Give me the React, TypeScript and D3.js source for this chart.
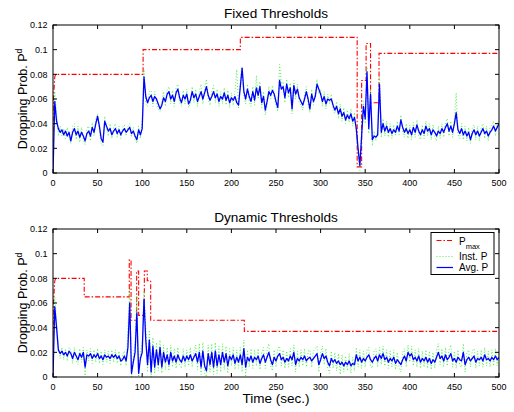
import React from 'react';
import * as d3 from 'd3';

const W = 514;
const H = 412;
const FONT = '"Liberation Sans", Arial, Helvetica, sans-serif';

const X_TICKS = [0, 50, 100, 150, 200, 250, 300, 350, 400, 450, 500];
const Y_TICKS = [0, 0.02, 0.04, 0.06, 0.08, 0.1, 0.12];
const Y_TICK_LABELS = ['0', '0.02', '0.04', '0.06', '0.08', '0.1', '0.12'];
const TITLES = ['Fixed Thresholds', 'Dynamic Thresholds'];
const LEGEND_LABELS = ['P', 'Inst. P', 'Avg. P'];

// sampling instants of the measured series (seconds)
const SAMPLE_TIMES = d3.range(0, 501, 2);

// values below are in units of 1e-3 (dropping probability x 1000)
const fixedAvg = [
  0, 58, 42, 36, 33, 35, 31, 34, 30, 33,
  26, 33, 36, 31, 34, 29, 33, 30, 26, 32,
  34, 30, 37, 33, 40, 46, 38, 28, 25, 42,
  38, 34, 36, 31, 34, 36, 32, 35, 31, 34,
  36, 33, 35, 37, 32, 34, 30, 27, 35, 31,
  36, 78, 62, 57, 61, 63, 58, 62, 60, 56,
  52, 55, 61, 58, 64, 66, 60, 63, 58, 65,
  68, 61, 57, 63, 60, 64, 56, 59, 66, 61,
  64, 58, 62, 66, 60, 65, 70, 63, 59, 62,
  66, 61, 64, 58, 62, 60, 65, 59, 63, 57,
  61, 59, 62, 57, 55, 70, 85, 66, 60, 68,
  62, 58, 66, 59, 69, 63, 70, 57, 62, 51,
  58, 66, 63, 67, 64, 58, 53, 75, 68, 70,
  61, 72, 65, 69, 52, 71, 64, 68, 61, 58,
  55, 60, 66, 60, 52, 64, 58, 62, 72, 68,
  64, 58, 62, 56, 60, 59, 60, 55, 51, 54,
  48, 52, 46, 49, 43, 47, 44, 48, 42, 45,
  36, 20, 6, 30, 54, 44, 82, 36, 64, 27,
  30, 29, 31, 72, 33, 40, 34, 38, 33, 36,
  32, 35, 33, 38, 34, 43, 37, 33, 36, 32,
  35, 31, 37, 33, 39, 34, 31, 35, 32, 38,
  34, 36, 31, 35, 33, 30, 34, 32, 36, 33,
  37, 40, 34, 38, 33, 40, 49, 35, 32, 36,
  31, 34, 30, 33, 27, 32, 35, 31, 34, 30,
  33, 36, 32, 34, 30, 33, 35, 38, 34, 37,
  40,
];

const fixedInst = [
  40, 66, 48, 30, 38, 30, 36, 28, 37, 29,
  24, 38, 40, 27, 38, 25, 37, 27, 23, 36,
  38, 26, 41, 30, 44, 48, 34, 24, 22, 46,
  35, 30, 40, 28, 37, 40, 29, 38, 28, 37,
  39, 30, 38, 40, 29, 37, 27, 24, 38, 28,
  42, 84, 56, 54, 66, 67, 54, 66, 56, 52,
  50, 58, 66, 54, 68, 70, 56, 67, 54, 69,
  72, 57, 54, 67, 56, 68, 53, 56, 70, 57,
  68, 54, 66, 72, 56, 69, 76, 60, 55, 66,
  71, 57, 68, 54, 66, 56, 69, 55, 67, 53,
  65, 55, 66, 84, 52, 76, 86, 62, 56, 72,
  58, 54, 70, 55, 79, 60, 74, 53, 66, 47,
  55, 70, 60, 71, 61, 55, 50, 88, 72, 74,
  57, 76, 61, 73, 48, 75, 60, 72, 57, 55,
  51, 64, 70, 56, 49, 68, 55, 66, 76, 64,
  68, 54, 66, 52, 64, 56, 64, 51, 48, 58,
  44, 56, 42, 53, 40, 51, 41, 52, 38, 49,
  32, 14, 2, 36, 58, 40, 86, 32, 68, 22,
  34, 26, 35, 78, 29, 44, 30, 42, 29, 40,
  28, 39, 30, 42, 31, 47, 33, 29, 40, 28,
  39, 27, 41, 29, 43, 30, 27, 39, 28, 42,
  30, 40, 27, 39, 29, 26, 38, 28, 40, 29,
  41, 44, 30, 42, 29, 44, 65, 31, 28, 40,
  27, 38, 26, 37, 24, 36, 39, 27, 38, 26,
  37, 40, 28, 38, 26, 37, 39, 42, 30, 41,
  42,
];

const dynAvg = [
  0, 57, 40, 22, 19, 21, 18, 20, 17, 21,
  19, 15, 20, 17, 14, 19, 16, 20, 8, 18,
  17, 19, 15, 18, 16, 19, 15, 17, 14, 18,
  16, 17, 15, 18, 16, 18, 15, 17, 13, 14,
  17, 13, 24, 60, 3, 12, 20, 52, 3, 15,
  20, 63, 30, 10, 30, 4, 25, 8, 22, 10,
  24, 8, 20, 12, 18, 10, 20, 13, 17, 12,
  18, 14, 12, 17, 13, 17, 14, 18, 13, 16,
  19, 12, 20, 8, 21, 9, 5, 19, 10, 20,
  8, 21, 9, 18, 10, 20, 12, 19, 9, 17,
  14, 18, 11, 16, 12, 18, 10, 23, 8, 16,
  13, 17, 12, 16, 14, 17, 11, 15, 18, 12,
  16, 20, 14, 10, 16, 13, 17, 19, 14, 16,
  12, 15, 13, 17, 14, 20, 10, 15, 13, 16,
  14, 17, 13, 15, 16, 13, 15, 17, 19, 10,
  14, 19, 15, 17, 12, 9, 15, 12, 14, 11,
  13, 10, 12, 9, 12, 10, 13, 9, 11, 10,
  18, 13, 16, 12, 15, 13, 16, 18, 14, 12,
  15, 17, 13, 18, 15, 19, 14, 16, 12, 15,
  13, 16, 11, 14, 12, 10, 14, 17, 13, 20,
  17, 19, 14, 16, 13, 17, 12, 15, 13, 16,
  12, 15, 11, 14, 12, 16, 20, 15, 17, 13,
  18, 14, 16, 19, 13, 15, 12, 16, 14, 13,
  20, 10, 14, 16, 13, 15, 17, 12, 15, 14,
  16, 13, 18, 14, 15, 13, 16, 14, 17, 14,
  16,
];

const dynInst = [
  30, 65, 45, 25, 15, 24, 14, 23, 13, 24,
  22, 11, 24, 13, 10, 23, 12, 24, 1, 22,
  13, 23, 11, 22, 12, 23, 11, 21, 10, 22,
  12, 21, 11, 22, 12, 22, 11, 21, 9, 18,
  21, 9, 40, 72, 0, 16, 28, 66, 0, 20,
  28, 70, 40, 4, 38, 0, 32, 3, 28, 5,
  30, 3, 26, 6, 24, 5, 26, 8, 23, 7,
  24, 9, 7, 23, 8, 22, 9, 24, 8, 21,
  26, 6, 27, 2, 28, 3, 0, 26, 4, 27,
  2, 28, 3, 25, 4, 27, 6, 25, 3, 23,
  9, 24, 6, 22, 7, 24, 4, 30, 0, 22,
  8, 23, 7, 22, 9, 23, 6, 20, 24, 7,
  22, 27, 9, 5, 22, 8, 23, 25, 9, 22,
  7, 21, 8, 23, 9, 26, 4, 21, 8, 22,
  9, 23, 8, 21, 22, 8, 21, 23, 25, 4,
  20, 25, 10, 23, 7, 3, 21, 7, 20, 5,
  19, 2, 18, 4, 17, 5, 19, 3, 16, 5,
  24, 8, 22, 7, 21, 8, 22, 24, 9, 7,
  21, 23, 8, 24, 10, 25, 9, 22, 7, 21,
  8, 22, 6, 20, 7, 4, 20, 23, 8, 26,
  12, 25, 9, 22, 8, 23, 7, 21, 8, 22,
  7, 21, 6, 20, 7, 22, 27, 10, 23, 8,
  24, 9, 22, 26, 8, 21, 7, 22, 9, 8,
  27, 4, 20, 22, 8, 21, 23, 7, 21, 9,
  22, 8, 24, 9, 21, 8, 22, 9, 23, 9,
  21,
];

// P_max threshold (step curve): times (s) and values
const fixedPmaxT = [0, 0.5, 2, 3, 101, 101, 210, 210, 341, 341, 346, 346, 351, 351, 356, 356, 365.5, 365.5, 500];
const fixedPmaxV = [0.025, 0.06, 0.078, 0.08, 0.08, 0.1, 0.1, 0.11, 0.11, 0.005, 0.005, 0.075, 0.075, 0.105, 0.105, 0.057, 0.057, 0.097, 0.097];

const dynPmaxT = [0, 0.5, 2, 3, 35, 35, 85.5, 85.5, 87.5, 87.5, 93.8, 93.8, 96, 96, 102.4, 102.4, 105.7, 105.7, 109.5, 109.5, 214.5, 214.5, 500];
const dynPmaxV = [0.025, 0.06, 0.078, 0.08, 0.08, 0.065, 0.065, 0.095, 0.095, 0.046, 0.046, 0.086, 0.086, 0.05, 0.05, 0.086, 0.086, 0.078, 0.078, 0.046, 0.046, 0.037, 0.037];

const LEFT = 53;
const RIGHT = 499;
const PANELS = [
  { top: 25, bottom: 173 },
  { top: 229, bottom: 377 },
];

const RED = '#ff0000';
const GREEN = '#44ee44';
const BLUE = '#0000ff';
const DASHDOT = '5,2,1.5,2';
const DOTS = '1,2';

type PanelProps = {
  idx: number;
  title: string;
  avg: number[];
  inst: number[];
  pT: number[];
  pV: number[];
  legend?: boolean;
  xlabel?: boolean;
};

function Panel({ idx, title, avg, inst, pT, pV, legend, xlabel }: PanelProps) {
  const { top, bottom } = PANELS[idx];
  const x = d3.scaleLinear().domain([0, 500]).range([LEFT, RIGHT]);
  const y = d3.scaleLinear().domain([0, 0.12]).range([bottom, top]);
  const line = d3
    .line<[number, number]>()
    .x((d) => x(d[0]))
    .y((d) => y(d[1]));
  const avgPts: [number, number][] = avg.map((v, i) => [SAMPLE_TIMES[i], v / 1000]);
  const instPts: [number, number][] = inst.map((v, i) => [SAMPLE_TIMES[i], v / 1000]);
  const pPts: [number, number][] = pT.map((t, i) => [t, pV[i]]);
  const clipId = `clip-${idx}`;
  const tick = 4;
  const cy = (top + bottom) / 2;
  const cx = (LEFT + RIGHT) / 2;

  return (
    <g>
      <defs>
        <clipPath id={clipId}>
          <rect x={LEFT} y={top - 1} width={RIGHT - LEFT} height={bottom - top + 1} />
        </clipPath>
      </defs>
      <g clipPath={`url(#${clipId})`} fill="none">
        <path d={line(pPts) || ''} stroke={RED} strokeWidth={1.1} strokeDasharray={DASHDOT} />
        <path d={line(instPts) || ''} stroke={GREEN} strokeWidth={0.9} strokeDasharray={DOTS} />
        <path d={line(avgPts) || ''} stroke={BLUE} strokeWidth={1.3} strokeLinejoin="round" />
      </g>
      {/* box */}
      <rect x={LEFT} y={top} width={RIGHT - LEFT} height={bottom - top} fill="none" stroke="#000" strokeWidth={1} />
      {/* x ticks */}
      {X_TICKS.map((t) => (
        <g key={`x${t}`}>
          <line x1={x(t)} x2={x(t)} y1={bottom} y2={bottom - tick} stroke="#000" strokeWidth={1} />
          <line x1={x(t)} x2={x(t)} y1={top} y2={top + tick} stroke="#000" strokeWidth={1} />
          <text x={x(t)} y={bottom + 12.5} textAnchor="middle" fontSize={9} fontFamily={FONT} fill="#000">
            {t}
          </text>
        </g>
      ))}
      {/* y ticks */}
      {Y_TICKS.map((v, i) => (
        <g key={`y${i}`}>
          <line x1={LEFT} x2={LEFT + tick} y1={y(v)} y2={y(v)} stroke="#000" strokeWidth={1} />
          <line x1={RIGHT} x2={RIGHT - tick} y1={y(v)} y2={y(v)} stroke="#000" strokeWidth={1} />
          <text x={47.5} y={y(v) + 3.2} textAnchor="end" fontSize={9} fontFamily={FONT} fill="#000">
            {Y_TICK_LABELS[i]}
          </text>
        </g>
      ))}
      {/* title */}
      <text x={cx} y={top - 7.5} textAnchor="middle" fontSize={13.6} fontFamily={FONT} fill="#000">
        {title}
      </text>
      {/* y label */}
      <text
        transform={`translate(27,${cy}) rotate(-90)`}
        textAnchor="middle"
        fontSize={12.5}
        fontFamily={FONT}
        fill="#000"
      >
        Dropping Prob. P
        <tspan fontSize={8.5} dy={-5}>d</tspan>
      </text>
      {xlabel && (
        <text x={cx} y={bottom + 25.5} textAnchor="middle" fontSize={13.5} fontFamily={FONT} fill="#000">
          Time (sec.)
        </text>
      )}
      {legend && (
        <g fontFamily={FONT} fill="#000">
          <rect x={431} y={232.5} width={63} height={42} fill="#fff" stroke="#000" strokeWidth={1} />
          <line x1={436.5} x2={453} y1={240.5} y2={240.5} stroke={RED} strokeWidth={1} strokeDasharray={DASHDOT} />
          <text x={459} y={244.5} fontSize={10}>
            {LEGEND_LABELS[0]}
            <tspan fontSize={7.5} dy={4.5}>max</tspan>
          </text>
          <line x1={436.5} x2={453} y1={256.5} y2={256.5} stroke={GREEN} strokeWidth={1} strokeDasharray={DOTS} />
          <text x={459} y={260.3} fontSize={10}>
            {LEGEND_LABELS[1]}
          </text>
          <line x1={436.5} x2={453} y1={267.5} y2={267.5} stroke={BLUE} strokeWidth={1.2} />
          <text x={459} y={271.2} fontSize={10}>
            {LEGEND_LABELS[2]}
          </text>
        </g>
      )}
    </g>
  );
}

export default function App() {
  return (
    <svg
      width={W}
      height={H}
      viewBox={`0 0 ${W} ${H}`}
      style={{ position: 'absolute', left: 0, top: 0, background: '#fff' }}
    >
      <rect x={0} y={0} width={W} height={H} fill="#fff" />
      <Panel idx={0} title={TITLES[0]} avg={fixedAvg} inst={fixedInst} pT={fixedPmaxT} pV={fixedPmaxV} />
      <Panel idx={1} title={TITLES[1]} avg={dynAvg} inst={dynInst} pT={dynPmaxT} pV={dynPmaxV} legend xlabel />
    </svg>
  );
}
